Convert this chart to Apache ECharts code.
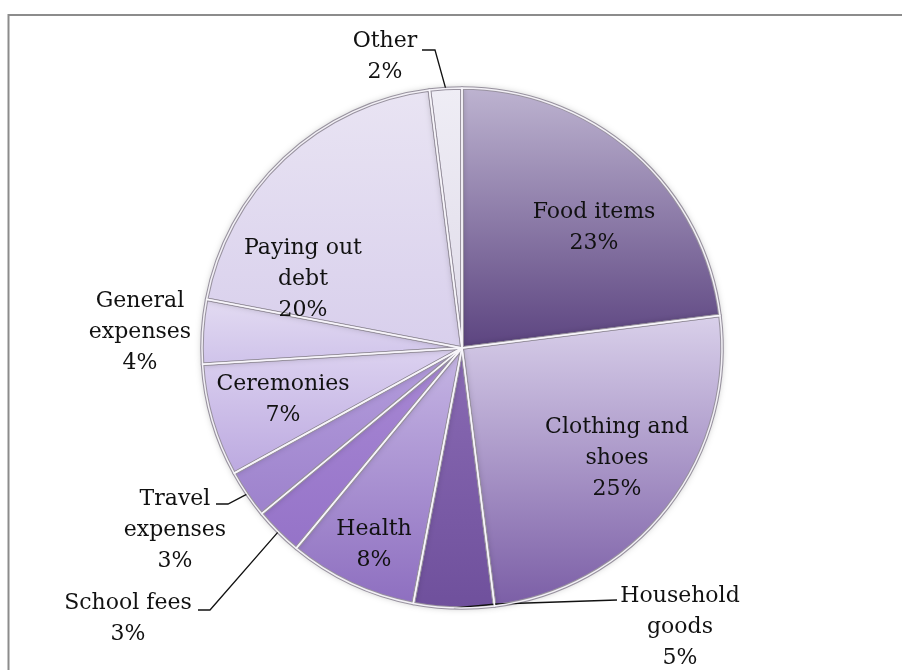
<!DOCTYPE html>
<html>
<head>
<meta charset="utf-8">
<script src="https://cdn.jsdelivr.net/npm/echarts@6/dist/echarts.min.js"></script>
<style>
  html, body { margin: 0; padding: 0; background: #ffffff; }
  #chart { width: 902px; height: 670px; }
</style>
</head>
<body>
<div id="chart"></div>
<script>
// Household spending shares (percent), clockwise from 12 o'clock
const categories = [
  'Food items', 'Clothing and\nshoes', 'Household\ngoods', 'Health',
  'School fees', 'Travel\nexpenses', 'Ceremonies', 'General\nexpenses',
  'Paying out\ndebt', 'Other'
];
const shares = [23, 25, 5, 8, 3, 3, 7, 4, 20, 2];

// Slice shading: lighter top tone, darker bottom tone
const topTones = ['#bdb3d0', '#d9d0ea', '#8a6bb4', '#c6b6e4', '#a888d4', '#b49ddc', '#dcd2f0', '#e3dbf2', '#e9e4f3', '#efedf5'];
const bottomTones = ['#5c4480', '#7b5ea6', '#6f509c', '#8e6fc0', '#9573c8', '#9d82cc', '#bca9e0', '#cfc3ea', '#d8cfec', '#dfdbe9'];

// Where each label sits and, for outside labels, the bend of its leader line
const labelSpots = [
  { x: 594, y: 228, line: false },
  { x: 617, y: 458, line: false },
  { x: 680, y: 627, line: true, bend: [[497, 604], [617, 600]] },
  { x: 374, y: 545, line: false },
  { x: 128, y: 619, line: true, bend: [[210, 610], [198, 610]] },
  { x: 175, y: 530, line: true, bend: [[228, 504], [216, 504]] },
  { x: 283, y: 400, line: false },
  { x: 140, y: 332, line: false },
  { x: 303, y: 279, line: false },
  { x: 385, y: 57, line: true, bend: [[435, 50], [422, 50]] }
];

const outside = labelSpots.map(s => s.line);
const CENTER = [462, 348];
const RADIUS = 260;

const fillData = categories.map((name, i) => ({
  name: name,
  value: shares[i],
  itemStyle: {
    color: new echarts.graphic.LinearGradient(0, 0, 0, 1, [
      { offset: 0, color: topTones[i] },
      { offset: 1, color: bottomTones[i] }
    ])
  }
}));

const labelData = categories.map((name, i) => ({
  name: name,
  value: shares[i],
  label: { position: outside[i] ? 'outside' : 'inside' },
  labelLine: { show: outside[i] }
}));

const rimData = categories.map((name, i) => ({ name: name, value: shares[i] }));

const textStyle = {
  fontFamily: '"DejaVu Serif", serif',
  fontSize: 22,
  lineHeight: 31,
  color: '#111111'
};

const basePie = {
  type: 'pie',
  center: CENTER,
  radius: RADIUS,
  startAngle: 90,
  clockwise: true,
  avoidLabelOverlap: false
};

const chart = echarts.init(document.getElementById('chart'), null, { renderer: 'canvas' });

chart.setOption({
  backgroundColor: '#ffffff',
  animation: false,
  graphic: [
    { type: 'line', shape: { x1: 8, y1: 15, x2: 902, y2: 15 }, style: { stroke: '#8c8c8c', lineWidth: 2 }, z: 1 },
    { type: 'line', shape: { x1: 8.5, y1: 14, x2: 8.5, y2: 670 }, style: { stroke: '#8c8c8c', lineWidth: 2 }, z: 1 }
  ],
  series: [
    // shaded slices with a soft drop shadow
    Object.assign({}, basePie, {
      silent: true,
      label: { show: false },
      labelLine: { show: false },
      itemStyle: {
        borderWidth: 0,
        shadowBlur: 7,
        shadowColor: 'rgba(0,0,0,0.28)'
      },
      data: fillData,
      z: 2
    }),
    // grey outline along every seam and the outer edge
    Object.assign({}, basePie, {
      silent: true,
      label: { show: false },
      labelLine: { show: false },
      itemStyle: {
        color: 'rgba(0,0,0,0)',
        borderColor: '#98929f',
        borderWidth: 3.6
      },
      data: rimData,
      z: 3
    }),
    // pale highlight inside each seam, plus the labels
    Object.assign({}, basePie, {
      percentPrecision: 0,
      itemStyle: {
        color: 'rgba(0,0,0,0)',
        borderColor: 'rgba(248,246,251,0.95)',
        borderWidth: 1.5
      },
      label: Object.assign({
        show: true,
        formatter: '{b}\n{d}%',
        align: 'center'
      }, textStyle),
      labelLine: {
        show: true,
        length: 20,
        length2: 10,
        lineStyle: { color: '#111111', width: 1.3 }
      },
      labelLayout: function (params) {
        const spot = labelSpots[params.dataIndex];
        const out = { x: spot.x, y: spot.y, align: 'center', verticalAlign: 'middle' };
        if (spot.line && params.labelLinePoints && params.labelLinePoints.length) {
          out.labelLinePoints = [params.labelLinePoints[0], spot.bend[0], spot.bend[1]];
        }
        return out;
      },
      data: labelData,
      z: 4
    })
  ]
});
</script>
</body>
</html>
